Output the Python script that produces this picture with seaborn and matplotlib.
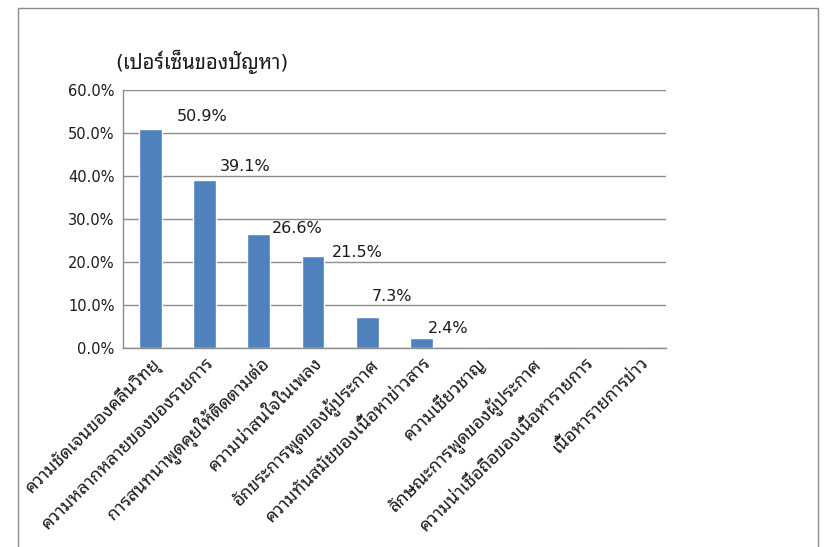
import matplotlib
matplotlib.use("Agg")
import matplotlib.pyplot as plt
from matplotlib.patches import Rectangle
from matplotlib.ticker import FixedLocator, FuncFormatter
import numpy as np
import pandas as pd
import seaborn as sns

categories = [
    "ความชัดเจนของคลื่นวิทยุ",
    "ความหลากหลายของของรายการ",
    "การสนทนาพูดคุยให้ติดตามต่อ",
    "ความน่าสนใจในเพลง",
    "อักขระการพูดของผู้ประกาศ",
    "ความทันสมัยของเนื้อหาข่าวสาร",
    "ความเชี่ยวชาญ",
    "ลักษณะการพูดของผู้ประกาศ",
    "ความน่าเชื่อถือของเนื้อหารายการ",
    "เนื้อหารายการข่าว",
]
values = [50.9, 39.1, 26.6, 21.5, 7.3, 2.4, 0.0, 0.0, 0.0, 0.0]
yticks = [0, 10, 20, 30, 40, 50, 60]
title = "(เปอร์เซ็นของปัญหา)"

# label placement offsets (style, not data)
label_dx = [0.49, 0.28, 0.24, 0.34, 0.08, 0.12]
label_dy = [3.0, 3.0, 1.3, 0.6, 4.6, 2.2]

sns.set_style("white")
plt.rcParams['font.family'] = ['DejaVu Sans', 'Noto Sans Thai Looped']

W, H = 827, 547
fig = plt.figure(figsize=(W / 100, H / 100), dpi=100)
fig.patches.append(Rectangle((18 / W, -0.05), 800 / W, 1 - 8 / H + 0.05,
                             transform=fig.transFigure, fill=False,
                             edgecolor='#8c8c8c', lw=1.0))

ax = fig.add_axes([123 / W, 1 - 348 / H, (666 - 123) / W, (348 - 90) / H])
df = pd.DataFrame({"cat": categories, "val": values})
sns.barplot(data=df, x="cat", y="val", color="#4F81BD", width=0.42,
            saturation=1, ax=ax)

ax.set_xlim(-0.5, len(categories) - 0.5)
ax.set_ylim(0, 60)
ax.set_yticks(yticks)
ax.yaxis.set_major_formatter(FuncFormatter(lambda v, p: f"{v:.1f}%"))
ax.grid(axis='y', color='#8c8c8c', lw=1.0)
ax.set_axisbelow(True)
for s in ['top', 'right']:
    ax.spines[s].set_visible(False)
for s in ['left', 'bottom']:
    ax.spines[s].set_color('#8c8c8c')
    ax.spines[s].set_linewidth(1.0)

ax.set_xticks(range(len(categories)))
ax.set_xticklabels(categories, rotation=45, ha='right', rotation_mode='anchor',
                   fontsize=13, color='#1a1a1a')
ax.xaxis.set_minor_locator(FixedLocator(np.arange(-0.5, len(categories), 1.0)))
ax.tick_params(axis='x', which='major', length=0, pad=4)
ax.tick_params(axis='x', which='minor', length=5, color='#8c8c8c', direction='out')
ax.tick_params(axis='y', length=5, color='#8c8c8c', direction='out',
               labelsize=10.5, labelcolor='#1a1a1a', pad=1)
ax.set_xlabel("")
ax.set_ylabel("")

for i, v in enumerate(values[:len(label_dx)]):
    ax.text(i + label_dx[i], v + label_dy[i], f"{v:.1f}%", ha='left',
            va='center', fontsize=11.5, color='#1a1a1a')

fig.text(115 / W, 1 - 62 / H, title, ha='left', va='center', fontsize=14.5,
         color='#1a1a1a')

fig.savefig("out.png", dpi=100)
